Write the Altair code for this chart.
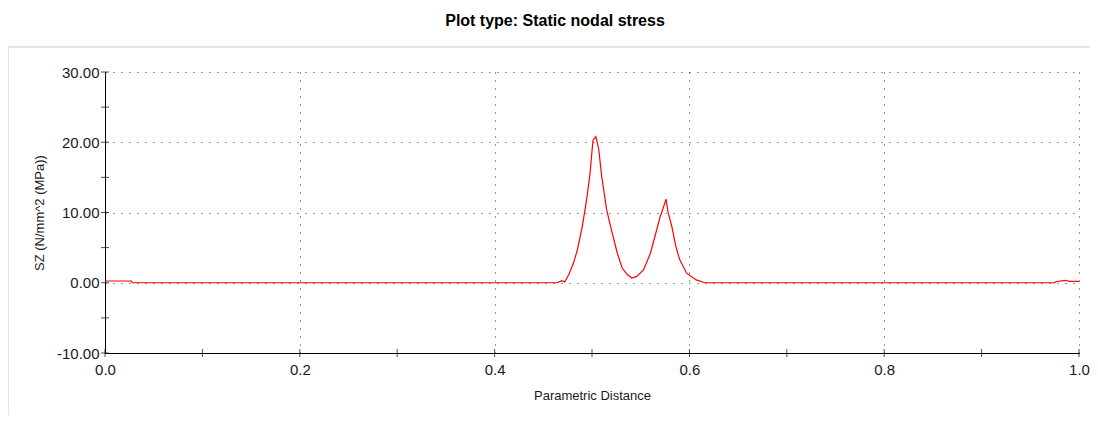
import altair as alt
import pandas as pd

# Parametric distance (x) and stress SZ (y)
x_vals = [0.0, 0.027, 0.028, 0.10, 0.20, 0.30, 0.40, 0.464, 0.469, 0.472, 0.476, 0.481, 0.485,
          0.490, 0.495, 0.498, 0.501, 0.504, 0.507, 0.510, 0.515, 0.520, 0.526, 0.531,
          0.536, 0.541, 0.546, 0.553, 0.560, 0.565, 0.570, 0.573, 0.576, 0.578, 0.582,
          0.586, 0.590, 0.597, 0.607, 0.616, 0.70, 0.80, 0.90, 0.975, 0.976, 0.986, 0.990, 1.0]
y_vals = [0.25, 0.25, 0.0, 0.0, 0.0, 0.0, 0.0, 0.0, 0.3, 0.1, 1.1, 2.8, 4.7,
          8.0, 12.3, 15.6, 20.3, 20.8, 18.9, 15.1, 10.4, 7.5, 4.2, 2.1,
          1.2, 0.67, 0.9, 1.85, 4.2, 6.8, 9.4, 10.6, 11.9, 10.1, 8.0,
          5.2, 3.3, 1.4, 0.4, 0.0, 0.0, 0.0, 0.0, 0.0, 0.15, 0.35, 0.2, 0.2]

x_major = [0.0, 0.2, 0.4, 0.6, 0.8, 1.0]
x_minor = [0.0, 0.1, 0.2, 0.3, 0.4, 0.5, 0.6, 0.7, 0.8, 0.9, 1.0]
y_major = [-10, 0, 10, 20, 30]
y_minor = [-10, -5, 0, 5, 10, 15, 20, 25, 30]

df = pd.DataFrame({"x": x_vals, "y": y_vals})
xt = pd.DataFrame({"x": x_minor})
yt = pd.DataFrame({"y": y_minor})

FONT = "Liberation Sans"
W, H = 974, 281

xscale = alt.Scale(domain=[0, 1], nice=False, zero=False)
yscale = alt.Scale(domain=[-10, 30], nice=False, zero=False)

line = alt.Chart(df).mark_line(color="#ff0000", strokeWidth=1.2).encode(
    x=alt.X("x:Q", scale=xscale,
            axis=alt.Axis(title="Parametric Distance", values=x_major, format=".1f",
                          ticks=False, labelPadding=9, titlePadding=12, labelFlush=False,
                          grid=True, gridDash=[1, 7], gridColor="#333333", gridWidth=1)),
    y=alt.Y("y:Q", scale=yscale,
            axis=alt.Axis(title="SZ (N/mm^2 (MPa))", values=y_major,
                          labelExpr="datum.value < 0 ? '-' + format(-datum.value, '.2f') : format(datum.value, '.2f')",
                          ticks=False, labelPadding=6, titlePadding=10, labelFlush=False,
                          grid=True, gridDash=[1, 7], gridColor="#333333", gridWidth=1)),
)

xticks = alt.Chart(xt).mark_tick(orient="vertical", size=8, thickness=1, color="#000000").encode(
    x=alt.X("x:Q", scale=xscale), y=alt.value(H)
)
yticks = alt.Chart(yt).mark_tick(orient="horizontal", size=8, thickness=1, color="#000000").encode(
    y=alt.Y("y:Q", scale=yscale), x=alt.value(0)
)

frame = alt.Chart(pd.DataFrame({"a": [0]})).mark_rect(
    fill="transparent", stroke="#e6e6e6", strokeWidth=2
).encode(x=alt.value(-97), x2=alt.value(1100), y=alt.value(-25), y2=alt.value(400))

chart = alt.layer(frame, line, xticks, yticks).properties(
    width=W, height=H,
    autosize=alt.AutoSizeParams(type="none"),
    padding={"left": 97, "top": 64, "right": 11, "bottom": 62},
    title=alt.TitleParams("Plot type: Static nodal stress", anchor="middle", dx=-37,
                          offset=17, font=FONT, fontSize=16, fontWeight="bold", color="#000000"),
).configure_view(stroke=None).configure_axis(
    labelFont=FONT, labelFontSize=15, labelColor="#1a1a1a",
    titleFont=FONT, titleFontSize=13, titleFontWeight="normal", titleColor="#1a1a1a",
    domainColor="#000000", domainWidth=1,
)

chart.save("out.html", embed_options={"renderer": "svg", "actions": False})
